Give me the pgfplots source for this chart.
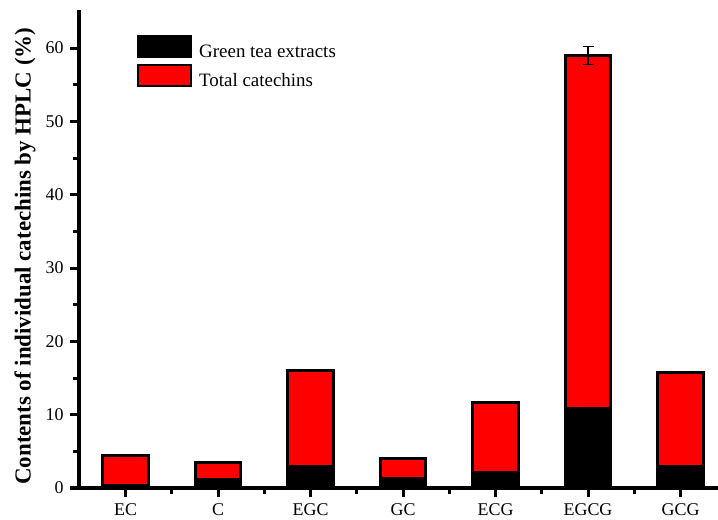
\documentclass[border=0pt]{standalone}
\usepackage{pgfplots}
\pgfplotsset{compat=1.18}
\usepackage{fontspec}
\setmainfont{Liberation Serif}
\begin{document}
\begin{tikzpicture}
\begin{axis}[
  scale only axis, width=639bp, height=478bp,
  xmin=-0.503, xmax=6.405, ymin=0, ymax=65.2,
  axis x line*=bottom, axis y line*=left,
  axis line style={line width=3bp, -},
  xtick={0,...,6}, xticklabels={EC,C,EGC,GC,ECG,EGCG,GCG},
  minor xtick={0.5,1.5,...,5.5},
  ytick={0,10,...,60}, minor ytick={5,15,...,55},
  tick align=outside, major tick length=9bp, minor tick length=6bp,
  every tick/.style={black, line width=3bp},
  tick label style={font=\fontsize{18}{18}\selectfont},
  xticklabel style={yshift=-3bp},
  yticklabel style={xshift=-3bp},
  /pgf/number format/assume math mode=true,
  ylabel={\textbf{Contents of individual catechins by HPLC (\%)}},
  ylabel style={at={(axis description cs:-0.0845,0.485)}, anchor=center,
    font=\fontsize{23}{25}\selectfont},
  legend style={at={(0.0908,0.948)}, anchor=north west, draw=none, fill=none,
    font=\fontsize{19}{21}\selectfont, row sep=4bp, column sep=6bp, inner sep=0pt,
    nodes={inner sep=1bp}},
  legend cell align=left,
  legend image code/.code={\draw[#1] (0bp,-5bp) rectangle (53bp,16bp);},
]
\addlegendimage{fill=black, draw=black, line width=2bp}
\addlegendentry{Green tea extracts}
\addlegendimage{fill=red, draw=black, line width=2bp}
\addlegendentry{Total catechins}
\addplot[ybar, bar width=0.49, bar shift=0pt, fill=red, draw=black, line width=3bp, forget plot,
  error bars/.cd, y dir=both, y explicit,
  error bar style={line width=1.5bp, black},
  error mark options={rotate=90, mark size=5.5bp, line width=1.5bp, black}]
  coordinates {(0,4.4) +- (0,0.05) (1,3.45) +- (0,0) (2,16.0) +- (0,0) (3,4.0) +- (0,0)
               (4,11.7) +- (0,0) (5,59.0) +- (0,1.25) (6,15.8) +- (0,0)};
\addplot[ybar, bar width=0.49, bar shift=0pt, fill=black, draw=black, line width=3bp, forget plot]
  coordinates {(0,0.4) (1,1.2) (2,2.9) (3,1.3) (4,2.1) (5,10.9) (6,3.0)};
\end{axis}
\pgfresetboundingbox
\path ([xshift=-79bp,yshift=-32bp]current axis.south west) rectangle ([yshift=10bp]current axis.north east);
\end{tikzpicture}
\end{document}
